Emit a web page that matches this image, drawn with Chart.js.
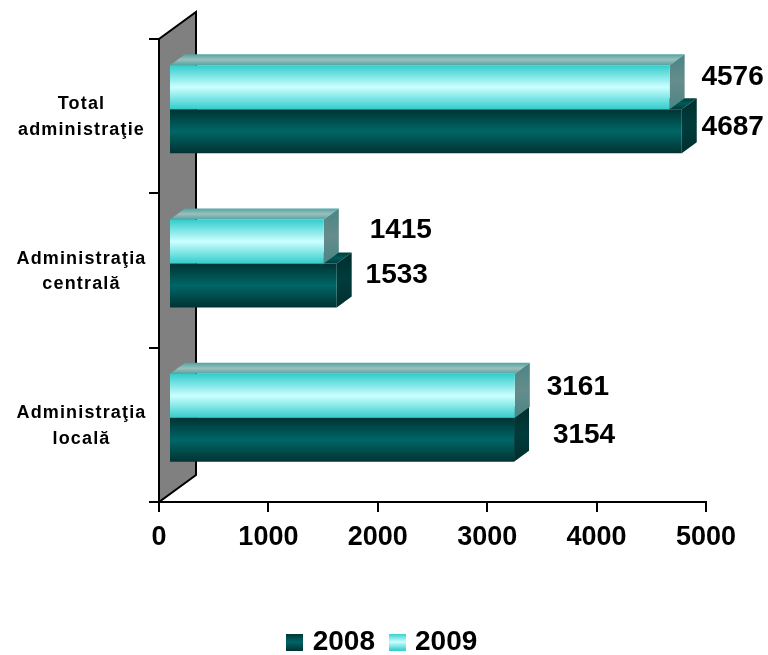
<!DOCTYPE html>
<html>
<head>
<meta charset="utf-8">
<script src="https://cdn.jsdelivr.net/npm/chart.js@4"></script>
<style>
  body { margin: 0; background: #fff; }
  canvas { display: block; }
</style>
</head>
<body>
<canvas id="chart" width="768" height="655"></canvas>
<script>
const categories = [['Total', 'administraţie'], ['Administraţia', 'centrală'], ['Administraţia', 'locală']];
const values2008 = [4687, 1533, 3154];
const values2009 = [4576, 1415, 3161];
const xTicks = [0, 1000, 2000, 3000, 4000, 5000];

/* value label nudges, [dx, dy] from the bar end */
const shift2008 = [[51, -4], [60, -10], [70, -5]];
const shift2009 = [[63, -10], [77, -11], [63, -9]];

const FONT = '"Liberation Sans", Arial, sans-serif';
const BAR_DX = 15, BAR_DY = -11;     // depth of a bar
const WALL_DX = 37, WALL_DY = -27;   // depth of the back wall
const SHIFT_X = 10, SHIFT_Y = -7;    // bars stand in the middle of the floor

const palette = {
  2008: { front: ['#003333', '#006666'], top: ['#003c3c', '#005a5a'], side: ['#002e2e', '#003c3c'] },
  2009: { front: ['#33cccc', '#ccffff'], top: ['#4fa5a5', '#9dbfbb'], side: ['#4a8585', '#668c8c'] }
};

function band(ctx, y0, y1, pair) {
  const g = ctx.createLinearGradient(0, y0, 0, y1);
  g.addColorStop(0, pair[0]);
  g.addColorStop(0.5, pair[1]);
  g.addColorStop(1, pair[0]);
  return g;
}

function swatch(pair) {
  const c = document.createElement('canvas');
  c.width = 17; c.height = 17;
  const x = c.getContext('2d');
  x.fillStyle = band(x, 0, 17, pair);
  x.fillRect(0, 0, 17, 17);
  return c;
}

function faceColor(key) {
  return ctx => {
    const chart = ctx.chart, scale = chart.scales.y;
    if (!scale || ctx.dataIndex === undefined) return palette[key].front[0];
    const size = scale.getPixelForValue(1) - scale.getPixelForValue(0);
    const mid = scale.getPixelForValue(ctx.dataIndex);
    if (!isFinite(size) || !isFinite(mid)) return palette[key].front[0];
    const half = size * 0.57 / 2;
    return key === 2009
      ? band(chart.ctx, mid - half, mid, palette[key].front)
      : band(chart.ctx, mid, mid + half, palette[key].front);
  };
}

function poly(ctx, pts, fill) {
  ctx.beginPath();
  pts.forEach((p, i) => i ? ctx.lineTo(p[0], p[1]) : ctx.moveTo(p[0], p[1]));
  ctx.closePath();
  ctx.fillStyle = fill;
  ctx.fill();
}

/* ─── Fake 3D: back wall and bar depth ─────────────────────────────────── */
const depthPlugin = {
  id: 'depth',
  afterLayout(chart) {
    // legend sits lower and further right than the layout would put it
    chart.legend.left += 31;
    chart.legend.right += 31;
    chart.legend.top += 11;
    chart.legend.bottom += 11;
  },
  beforeDraw(chart) {
    const { ctx, chartArea: a } = chart;
    ctx.save();
    ctx.beginPath();
    ctx.moveTo(a.left, a.bottom);
    ctx.lineTo(a.left, a.top);
    ctx.lineTo(a.left + WALL_DX, a.top + WALL_DY);
    ctx.lineTo(a.left + WALL_DX, a.bottom + WALL_DY);
    ctx.closePath();
    ctx.fillStyle = '#808080';
    ctx.fill();
    ctx.strokeStyle = '#000';
    ctx.lineWidth = 2;
    ctx.stroke();
    ctx.restore();
  },
  beforeDatasetsDraw(chart) {
    chart.ctx.save();
    chart.ctx.translate(SHIFT_X, SHIFT_Y);
  },
  beforeDatasetDraw(chart, args) {
    const ctx = chart.ctx;
    const colors = palette[chart.data.datasets[args.index].label];
    args.meta.data.forEach(bar => {
      const h = bar.height / 2, top = bar.y - h, bottom = bar.y + h;
      poly(ctx, [[bar.base, top], [bar.base + BAR_DX, top + BAR_DY], [bar.x + BAR_DX, top + BAR_DY], [bar.x, top]],
        band(ctx, top + BAR_DY, top, colors.top));
      poly(ctx, [[bar.x, top], [bar.x + BAR_DX, top + BAR_DY], [bar.x + BAR_DX, bottom + BAR_DY], [bar.x, bottom]],
        band(ctx, top + BAR_DY, bottom, colors.side));
    });
  },
  afterDatasetsDraw(chart) {
    const ctx = chart.ctx;
    ctx.restore();
    ctx.save();
    ctx.font = 'bold 28px ' + FONT;
    ctx.fillStyle = '#000';
    ctx.textAlign = 'center';
    ctx.textBaseline = 'middle';
    chart.data.datasets.forEach((ds, i) => {
      const shifts = ds.label === '2008' ? shift2008 : shift2009;
      chart.getDatasetMeta(i).data.forEach((bar, j) => {
        ctx.fillText(ds.data[j], bar.x + SHIFT_X + shifts[j][0], bar.y + SHIFT_Y + shifts[j][1]);
      });
    });
    ctx.restore();
  }
};

new Chart(document.getElementById('chart'), {
  type: 'bar',
  data: {
    labels: categories,
    datasets: [
      { label: '2009', data: values2009, backgroundColor: faceColor(2009), clip: false,
        pointStyle: swatch(palette[2009].front) },
      { label: '2008', data: values2008, backgroundColor: faceColor(2008), clip: false,
        pointStyle: swatch(palette[2008].front) }
    ]
  },
  plugins: [depthPlugin],
  options: {
    indexAxis: 'y',
    responsive: false,
    animation: false,
    categoryPercentage: 0.57,
    barPercentage: 1,
    layout: { padding: { top: 39, right: 62, left: 0, bottom: 0 } },
    plugins: {
      tooltip: { enabled: false },
      legend: {
        position: 'bottom',
        reverse: true,
        labels: {
          usePointStyle: true,
          pointStyleWidth: 8,
          font: { family: FONT, size: 28, weight: 'bold' },
          color: '#000',
          padding: 18,
          boxHeight: 17
        }
      }
    },
    scales: {
      x: {
        min: 0,
        max: 5000,
        afterBuildTicks: scale => { scale.ticks = xTicks.map(value => ({ value })); },
        afterFit: scale => { scale.height = 97; },
        grid: { drawOnChartArea: false, color: '#000', lineWidth: 2, tickLength: 10 },
        border: { color: '#000', width: 2 },
        ticks: { color: '#000', padding: 9, maxRotation: 0, callback: v => String(v), font: { family: FONT, size: 27, weight: 'bold' } }
      },
      y: {
        afterFit: scale => {
          scale.width = 159;
          // the category labels are set wider than the font's natural spacing
          const draw = Object.getPrototypeOf(scale).drawLabels;
          scale.drawLabels = function (area) {
            this.ctx.save();
            this.ctx.translate(0, 1);
            this.ctx.letterSpacing = '1.15px';
            draw.call(this, area);
            this.ctx.restore();
          };
        },
        grid: { drawOnChartArea: false, color: '#000', lineWidth: 2, tickLength: 10 },
        border: { color: '#000', width: 2 },
        ticks: { color: '#000', padding: 10, crossAlign: 'center', font: { family: FONT, size: 18, weight: 'bold', lineHeight: 1.44 } }
      }
    }
  }
});
</script>
</body>
</html>
